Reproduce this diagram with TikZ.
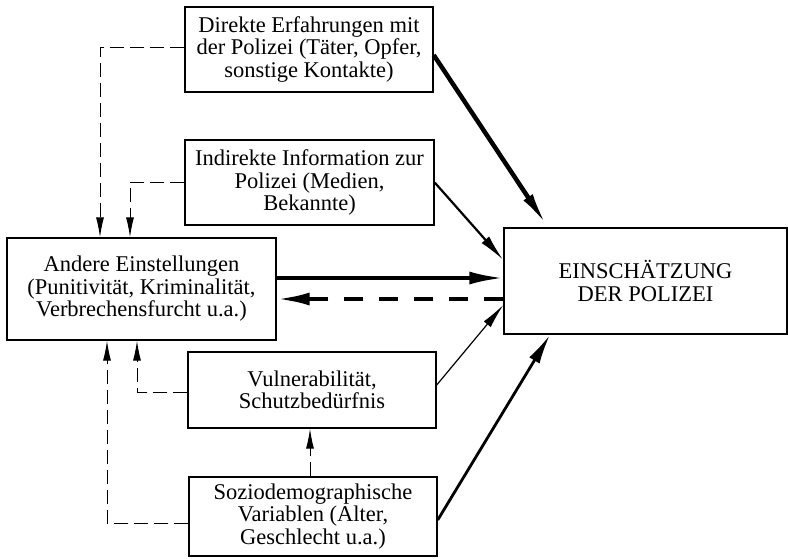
\documentclass[tikz,border=0pt]{standalone}
\usepackage{fontspec}
\setmainfont{Liberation Serif}
\usetikzlibrary{arrows.meta,calc}
\begin{document}
\begin{tikzpicture}[x=1pt,y=-1pt,
  box/.style={draw,line width=1.4pt,align=center,inner sep=0pt,font=\fontsize{22.5}{22.5}\selectfont},
  dsh/.style={line width=1pt,dash pattern=on 14pt off 6pt,-{Latex[length=20pt,width=8pt]}},
  >={Latex}]
\useasboundingbox (0,0) rectangle (788,558);
\node[box,minimum width=248pt,minimum height=85pt] (dir) at (309,49.5) {Direkte Erfahrungen mit\\der Polizei (Täter, Opfer,\\sonstige Kontakte)};
\node[box,minimum width=249pt,minimum height=85pt] (ind) at (309.5,182.5) {Indirekte Information zur\\Polizei (Medien,\\Bekannte)};
\node[box,minimum width=269pt,minimum height=102pt] (and) at (141.5,289) {Andere Einstellungen\\(Punitivität, Kriminalität,\\Verbrechensfurcht u.a.)};
\node[box,minimum width=248pt,minimum height=76pt] (vul) at (312,390) {Vulnerabilität,\\Schutzbedürfnis};
\node[box,minimum width=248pt,minimum height=79pt] (soz) at (313,516.5) {Soziodemographische\\Variablen (Alter,\\Geschlecht u.a.)};
\node[box,minimum width=283pt,minimum height=106pt] (ein) at (645.5,281) {EINSCHÄTZUNG\\DER POLIZEI};
% solid arrows into Einschaetzung
\draw[line width=4.5pt,-{Latex[length=36pt,width=11pt]}] ([yshift=-5.5pt]dir.east) -- ([xshift=-97.5pt]ein.north);
\draw[line width=2.2pt,-{Latex[length=27pt,width=10pt]}] (ind.east) -- ([yshift=21pt]ein.west);
\draw[line width=3.5pt,-{Latex[length=34pt,width=13pt]}] ([yshift=11pt]and.east) -- ([yshift=3pt]ein.west);
\draw[line width=1.2pt,-{Latex[length=25pt,width=9pt]}] ([yshift=5pt]vul.east) -- ([yshift=-24pt]ein.west);
\draw[line width=2.8pt,-{Latex[length=30pt,width=12pt]}] ([yshift=-3.5pt]soz.east) -- ([xshift=-95.5pt]ein.south);
% dashed feedback
\draw[line width=4pt,dash pattern=on 19pt off 16pt,-{Latex[length=33pt,width=13pt]}] ([yshift=-18pt]ein.west) -- ([yshift=-10pt]and.east);
% thin dashed connectors
\draw[dsh] ([yshift=2.5pt]dir.west) -| ([xshift=-41.5pt]and.north);
\draw[dsh] (ind.west) -| ([xshift=-11.5pt]and.north);
\draw[dsh] ([yshift=-2pt]vul.west) -| ([xshift=-4.5pt]and.south);
\draw[dsh] ([yshift=-6.5pt]soz.west) -| ([xshift=-34.5pt]and.south);
\draw[dsh] ([xshift=-3pt]soz.north) -- ([xshift=-2pt]vul.south);
\end{tikzpicture}
\end{document}
